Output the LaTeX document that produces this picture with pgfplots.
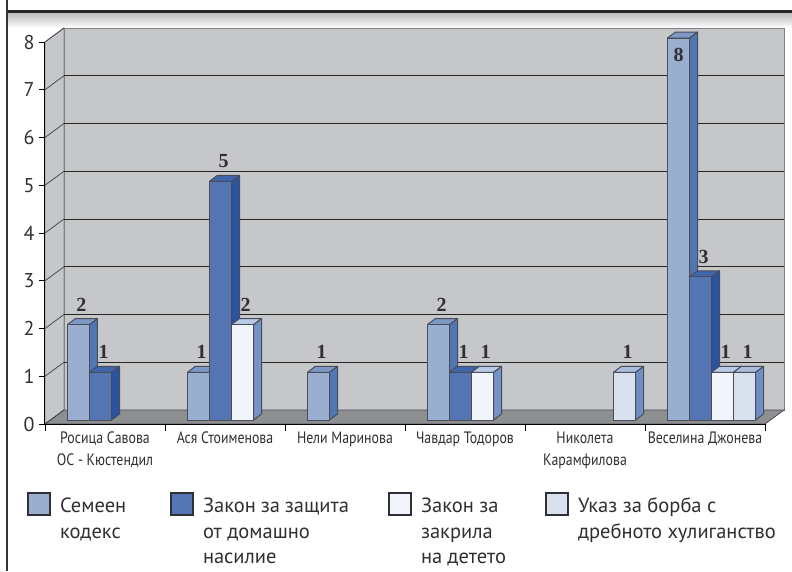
\documentclass[border=0pt]{standalone}
\usepackage{fontspec}
\usepackage{pgfplots}
\pgfplotsset{compat=1.18}
\setmainfont{PT Sans}
\newfontfamily\condfont[FakeStretch=0.84]{PT Sans}
\newfontfamily\valfont{Liberation Serif}

\definecolor{wall}{HTML}{C6C7C9}
\definecolor{floorgray}{HTML}{8E8F91}
\definecolor{edge}{HTML}{4A4C58}
\definecolor{inktext}{HTML}{303034}
\definecolor{sonefront}{HTML}{9AAED0}
\definecolor{sonetop}{HTML}{7E98C6}
\definecolor{soneside}{HTML}{5077B4}
\definecolor{stwofront}{HTML}{5475B2}
\definecolor{stwotop}{HTML}{3F66AC}
\definecolor{stwoside}{HTML}{2A53A0}
\definecolor{sthreefront}{HTML}{F1F4FA}
\definecolor{sthreetop}{HTML}{B9CAE6}
\definecolor{sthreeside}{HTML}{7493C6}
\definecolor{sfourfront}{HTML}{D9E0EE}
\definecolor{sfourtop}{HTML}{A9BCDC}
\definecolor{sfourside}{HTML}{6F8FC4}

\pgfdeclareplotmark{emptymark}{}

% #1 x shift of the bar inside the group, #2 front, #3 top, #4 side
\pgfplotsset{
  bar3d/.style n args={4}{
    only marks, mark=emptymark, scatter, point meta=y,
    visualization depends on=rawy \as \h,
    scatter/@pre marker code/.code={
      \pgfmathsetmacro\hh{\h*47.75}
      \path[draw=edge,line width=1pt,line join=round,fill=#4]
        ({#1+22pt},4pt) -- ({#1+30pt},10pt) -- ({#1+30pt},{10pt-\hh pt}) -- ({#1+22pt},{4pt-\hh pt}) -- cycle;
      \path[draw=edge,line width=1pt,line join=round,fill=#3]
        ({#1+0pt},4pt) -- ({#1+8pt},10pt) -- ({#1+30pt},10pt) -- ({#1+22pt},4pt) -- cycle;
      \path[draw=edge,line width=1pt,fill=#2]
        ({#1+0pt},4pt) rectangle ({#1+22pt},{4pt-\hh pt});
    },
    scatter/@post marker code/.code={},
    nodes near coords*,
    every node near coord/.append style={
      anchor=center,inner sep=0pt,text=inktext,
      font=\valfont\bfseries\fontsize{20}{20}\selectfont,
      xshift={#1+(\h>7.5 ? 11pt : 14pt)},
      yshift={(\h>7.5 ? -13pt : 24pt)}
    },
    legend image code/.code={
      \draw[draw=inktext,line width=2pt,fill=#2] (0pt,-9pt) rectangle ++(22pt,22pt);
    }
  }
}
\newcommand{\legcell}[2]{\parbox[t]{#1}{\raggedright\fontsize{20.5}{25.5}\selectfont #2}}

\begin{document}
\begin{tikzpicture}
% page is 792x571, origin at the front corner of the chart floor
\useasboundingbox (-45pt,-147pt) rectangle (747pt,424pt);
\fill[white] (-45pt,-147pt) rectangle (747pt,424pt);
% header rule and its shadow
\shade[top color=black!28,bottom color=white] (-38pt,412pt) rectangle (747pt,396pt);
\fill[black!85] (-38pt,411pt) rectangle (747pt,414pt);
\fill[black!80] (-38.5pt,-147pt) rectangle (-36.5pt,424pt);
% walls and floor
\path[fill=wall,draw=edge!70,line width=.8pt] (0pt,0pt) -- (19pt,14pt) -- (19pt,396pt) -- (0pt,382pt) -- cycle;
\path[fill=wall,draw=edge!70,line width=.8pt] (19pt,14pt) rectangle (739pt,396pt);
\path[fill=floorgray,draw=edge,line width=.8pt] (0pt,0pt) -- (720pt,0pt) -- (739pt,14pt) -- (19pt,14pt) -- cycle;
\begin{axis}[
    at={(0pt,0pt)}, anchor=origin,
    scale only axis, width=720pt, height=382pt,
    xmin=0, xmax=6, ymin=0, ymax=8,
    clip=false,
    axis lines=left,
    axis line style={-,black,line width=1pt},
    xtick={0.5,1.5,2.5,3.5,4.5,5.5},
    minor xtick={0,1,2,3,4,5,6},
    xticklabels={{Росица Савова\\ОС - Кюстендил},{Ася Стоименова},{Нели Маринова},{Чавдар Тодоров},{Николета\\Карамфилова},{Веселина Джонева}},
    ytick={1,...,7},
    extra y ticks={0,8},
    extra y tick style={grid=none},
    major x tick style={draw=none},
    minor x tick style={black,line width=.8pt},
    major y tick style={black,line width=.8pt},
    major tick length=6pt, minor tick length=7pt,
    tick align=outside,
    ymajorgrids,
    major y grid style={xshift=19pt,yshift=14pt,black!85,line width=.8pt},
    /pgf/number format/assume math mode=true,
    x tick label style={align=center,text=inktext,yshift=2pt,
      font=\condfont\fontsize{16.5}{22.5}\selectfont},
    y tick label style={text=inktext,xshift=-1pt,
      font=\fontsize{20}{20}\selectfont},
    legend columns=4,
    legend style={at={(-0.025,-0.178)},anchor=north west,draw=none,fill=none,
      inner sep=0pt,outer sep=0pt,text=inktext,
      /tikz/every odd column/.append style={column sep=7pt},
      /tikz/every even column/.append style={column sep=37pt}},
    legend cell align=left,
]
% diagonal grid pieces on the left wall
\pgfplotsinvokeforeach{0,...,8}{
  \draw[edge,line width=.8pt] (axis cs:0,#1) -- ++(19pt,14pt);
}
\addplot[bar3d={-37.5pt}{sonefront}{sonetop}{soneside}] coordinates {
    (0.5,2) (1.5,1) (2.5,1) (3.5,2) (5.5,8)
};
\addplot[bar3d={-15.5pt}{stwofront}{stwotop}{stwoside}] coordinates {
    (0.5,1) (1.5,5) (3.5,1) (5.5,3)
};
\addplot[bar3d={6.5pt}{sthreefront}{sthreetop}{sthreeside}] coordinates {
    (1.5,2) (3.5,1) (5.5,1)
};
\addplot[bar3d={28.5pt}{sfourfront}{sfourtop}{sfourside}] coordinates {
    (4.5,1) (5.5,1)
};
\addlegendentry{\legcell{71pt}{Семеен\\кодекс}}
\addlegendentry{\legcell{146pt}{Закон за защита\\от домашно\\насилие}}
\addlegendentry{\legcell{85pt}{Закон за\\закрила\\на детето}}
\addlegendentry{\legcell{200pt}{Указ за борба с\\дребното хулиганство}}
\end{axis}
\end{tikzpicture}
\end{document}
